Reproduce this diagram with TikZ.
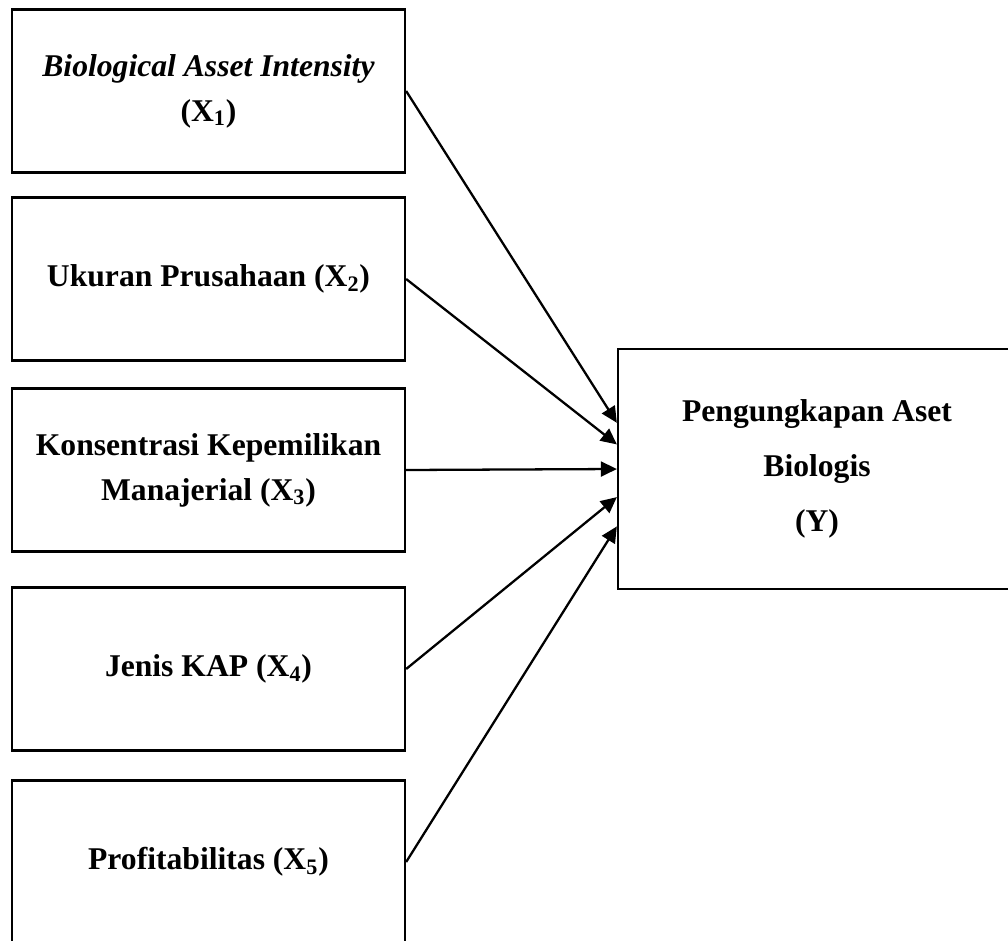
\documentclass[tikz,border=0pt]{standalone}
\usepackage{fontspec}
\setmainfont{Liberation Serif}
\usetikzlibrary{arrows.meta}

\begin{document}
\begin{tikzpicture}[
		varbox/.style={draw, line width=1.3pt, minimum width=7.86cm, minimum height=3.26cm,
			align=center, font=\fontsize{18}{25.5}\selectfont\bfseries},
		arrow/.style={line width=1.3pt, -{Triangle[length=0.32cm, width=0.3cm]}}
	]
	\useasboundingbox (0, 0) rectangle (20.16, -18.8);
	
	\node[varbox] (X1) at (4.17, -1.82) {\textit{Biological Asset Intensity}\\(X\textsubscript{1})};
	\node[varbox] (X2) at (4.17, -5.58) {Ukuran Prusahaan (X\textsubscript{2})};
	\node[varbox] (X3) at (4.17, -9.40) {Konsentrasi Kepemilikan\\Manajerial (X\textsubscript{3})};
	\node[varbox] (X4) at (4.17, -13.38) {Jenis KAP (X\textsubscript{4})};
	\node[varbox] (X5) at (4.17, -17.24) {Profitabilitas (X\textsubscript{5})};
	
	\node[varbox, minimum width=7.96cm, minimum height=4.8cm] (Y) at (16.34, -9.38)
		{Pengungkapan Aset\\[6pt]Biologis\\[6pt](Y)};
	
	\draw[arrow] (X1.east) -- (Y.167.5);
	\draw[arrow] (X2.east) -- (Y.173.7);
	\draw[arrow] (X3.east) -- (Y.west);
	\draw[arrow] (X4.east) -- (Y.188.9);
	\draw[arrow] (X5.east) -- (Y.196);
\end{tikzpicture}
\end{document}
